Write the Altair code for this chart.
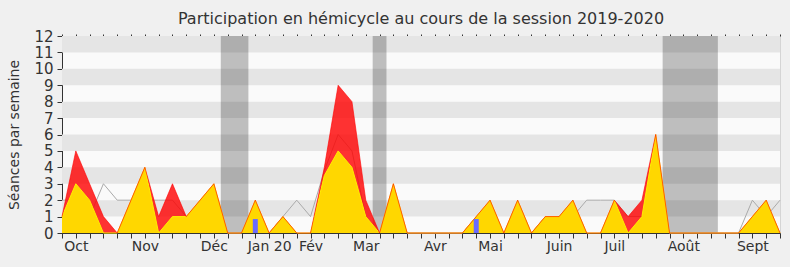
import altair as alt
import pandas as pd

# --- data ---
weeks = list(range(53))
presence = [1, 5, 3, 1, 0, 2, 4, 1, 3, 1, 2, 3, 0, 0, 2, 0, 1, 0, 0, 4,
            9, 8, 2, 0, 3, 0, 0, 0, 0, 0, 1, 2, 0, 2, 0, 1, 1, 2, 0, 0,
            2, 1, 2, 6, 0, 0, 0, 0, 0, 0, 1, 2, 0]
participation = [1, 3, 2, 0, 0, 2, 4, 0, 1, 1, 2, 3, 0, 0, 2, 0, 1, 0, 0, 3.5,
                 5, 4, 1, 0, 3, 0, 0, 0, 0, 0, 1, 2, 0, 2, 0, 1, 1, 2, 0, 0,
                 2, 0, 1, 6, 0, 0, 0, 0, 0, 0, 1, 2, 0]
median = [2, 2, 1, 3, 2, 2, 2, 2, 2, 1, 1, 1, 0, 0, 1, 0, 1, 2, 1, 3.8,
          6, 5, 1, 0, 1, 0, 0, 0, 0, 0, 1, 1, 0, 1, 0, 1, 1, 1, 2, 2,
          2, 1, 1, 3, 0, 0, 0, 0, 0, 0, 2, 1, 2]
qo_weeks = [14, 30]
qo_values = [0.85, 0.85]
vac_start = [11.5, 22.5, 43.5]
vac_end = [13.5, 23.5, 47.5]
stripe_lo = [1, 3, 5, 7, 9, 11]
stripe_hi = [2, 4, 6, 8, 10, 12]
month_weeks = [1, 6, 11, 15, 18, 22, 27, 31, 36, 40, 45, 50]
month_labels = ["Oct", "Nov", "Déc", "Jan 20", "Fév", "Mar", "Avr", "Mai",
                "Juin", "Juil", "Août", "Sept"]

df = pd.DataFrame({"week": weeks, "presence": presence,
                   "participation": participation, "median": median})
qo = pd.DataFrame({"week": qo_weeks, "qo": qo_values})
vac = pd.DataFrame({"start": vac_start, "end": vac_end})
stripes = pd.DataFrame({"lo": stripe_lo, "hi": stripe_hi})

FONT = "DejaVu Sans"
TXT = "#333333"

label_expr = "".join(f"datum.value == {w} ? '{l}' : "
                     for w, l in zip(month_weeks, month_labels)) + "''"

xscale = alt.Scale(domain=[0, 52], nice=False, zero=False, padding=0)
yscale = alt.Scale(domain=[0, 12], nice=False, padding=0)

x_bottom = alt.Axis(values=weeks, labelExpr=label_expr, tickSize=5,
                    labelPadding=1, labelOverlap=False, grid=False,
                    domainColor=TXT, tickColor=TXT, labelColor=TXT,
                    labelFontSize=14, labelFont=FONT, title=None,
                    labelFlush=False)
x_top = alt.Axis(orient="top", values=weeks, labels=False, tickSize=2,
                 domain=False, grid=False, title=None, tickColor=TXT)
y_axis = alt.Axis(values=list(range(13)), tickSize=5, labelPadding=4,
                  grid=False, domainColor=TXT, tickColor=TXT,
                  labelColor=TXT, labelFontSize=15, labelFont=FONT,
                  title="Séances par semaine", titleFontSize=14,
                  titleFont=FONT, titleFontWeight="normal",
                  titleColor=TXT, titlePadding=12)

stripe_layer = alt.Chart(stripes).mark_rect(color="#e5e5e5").encode(
    y=alt.Y("lo:Q", scale=yscale, axis=y_axis),
    y2="hi:Q",
)

vac_layer = alt.Chart(vac).mark_rect(color="#000000", opacity=0.24).encode(
    x=alt.X("start:Q", scale=xscale, axis=x_top),
    x2="end:Q",
)

base = alt.Chart(df)

median_layer = base.mark_line(color="#aaaaaa", strokeWidth=1).encode(
    x=alt.X("week:Q", scale=xscale, axis=None),
    y=alt.Y("median:Q", scale=yscale, axis=None),
)

red_area = base.mark_area(color="#ff0000", opacity=0.8).encode(
    x=alt.X("week:Q", scale=xscale, axis=None),
    y=alt.Y("presence:Q", scale=yscale, axis=None),
)

yellow_area = base.mark_area(color="#ffd700").encode(
    x=alt.X("week:Q", scale=xscale, axis=x_bottom),
    y=alt.Y("participation:Q", scale=yscale, axis=None),
)

yellow_line = base.mark_line(color="#ffee00", strokeWidth=1).encode(
    x=alt.X("week:Q", scale=xscale, axis=None),
    y=alt.Y("participation:Q", scale=yscale, axis=None),
)

red_line = base.mark_line(color="#ff0000", strokeWidth=1, opacity=0.6).encode(
    x=alt.X("week:Q", scale=xscale, axis=None),
    y=alt.Y("presence:Q", scale=yscale, axis=None),
)

bars = alt.Chart(qo).mark_bar(color="#6b6bff", size=5).encode(
    x=alt.X("week:Q", scale=xscale, axis=None),
    y=alt.Y("qo:Q", scale=yscale, axis=None),
)

chart = alt.layer(
    stripe_layer, vac_layer, median_layer, red_area, yellow_area,
    yellow_line, red_line, bars
).resolve_axis(x="independent", y="independent").properties(
    width=718,
    height=197,
    padding={"left": 62, "top": 36, "right": 10, "bottom": 34},
    autosize=alt.AutoSizeParams(type="none"),
    background="#f0f0f0",
    title=alt.TitleParams(
        "Participation en hémicycle au cours de la session 2019-2020",
        fontSize=16, font=FONT, fontWeight="normal", color=TXT,
        anchor="middle", offset=2),
).configure_view(fill="#fafafa", stroke="#d5d5d5")

chart.save("out.html", embed_options={"renderer": "svg", "actions": False})
